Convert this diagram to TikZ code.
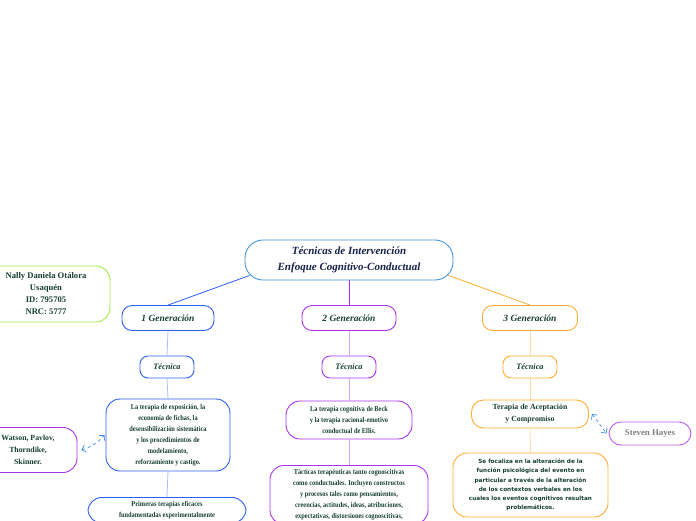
\documentclass[tikz,border=0pt]{standalone}
\usepackage{fontspec}
\setmainfont{Liberation Serif}
\newfontfamily\condserif[FakeStretch=0.86]{Liberation Serif}
\newfontfamily\bodysans{DejaVu Sans}
\usetikzlibrary{arrows.meta,positioning}
\definecolor{txtgreen}{RGB}{22,62,48}
\definecolor{navytxt}{RGB}{22,32,72}
\definecolor{rootblue}{RGB}{70,150,215}
\definecolor{genblue}{RGB}{45,95,245}
\definecolor{genpurple}{RGB}{170,50,235}
\definecolor{genorange}{RGB}{255,172,50}
\definecolor{namegreen}{RGB}{160,235,70}
\definecolor{dashblue}{RGB}{60,140,230}

\begin{document}
\begin{tikzpicture}[x=1pt, y=-1pt,
  box/.style={rectangle, draw, rounded corners=12pt, align=center, text=txtgreen, line width=0.9pt, inner sep=2pt},
  genbox/.style={box, rounded corners=10pt, minimum height=25pt, font=\bfseries\itshape\fontsize{9.5}{11}\selectfont},
  tecbox/.style={box, rounded corners=8pt, minimum width=54pt, minimum height=22pt, font=\bfseries\itshape\fontsize{8.3}{10}\selectfont},
  txtbox/.style={box, rounded corners=14pt, font=\condserif\bfseries\fontsize{7.4}{11}\selectfont},
  link/.style={line width=0.8pt},
  duo/.style={dashed, line width=0.7pt, color=dashblue, {Straight Barb[length=1.3mm]}-{Straight Barb[length=1.3mm]}},
]
\useasboundingbox (0,0) rectangle (696,520);
\clip (0,0) rectangle (696,520);

% central topic
\node[box, draw=rootblue, text=navytxt, rounded corners=18pt, minimum width=208pt, minimum height=40pt,
  font=\bfseries\itshape\fontsize{11}{15.5}\selectfont] (root) at (349,260)
  {Técnicas de Intervención\\Enfoque Cognitivo-Conductual};
\node[box, draw=namegreen, rounded corners=14pt, minimum width=128pt, minimum height=56pt,
  font=\bfseries\fontsize{8.6}{12}\selectfont] (name) at (46,294)
  {Nally Daniela Otálora\\Usaquén\\ID: 795705\\NRC: 5777};

% generations
\node[genbox, draw=genblue, minimum width=92pt] (gen1) at (168,318) {1 Generación};
\node[genbox, draw=genpurple, minimum width=94pt] (gen2) at (349,318) {2 Generación};
\node[genbox, draw=genorange, minimum width=95pt] (gen3) at (530,318) {3 Generación};

\node[tecbox, draw=genblue] (tec1) at (167,367) {Técnica};
\node[tecbox, draw=genpurple] (tec2) at (349,367) {Técnica};
\node[tecbox, draw=genorange] (tec3) at (530,367) {Técnica};

% first generation
\node[txtbox, draw=genblue, minimum width=124pt, minimum height=72pt] (expo) at (168,435)
  {La terapia de exposición, la\\economía de fichas, la\\desensibilización sistemática\\y los procedimientos de\\modelamiento,\\reforzamiento y castigo.};
\node[txtbox, draw=genpurple, minimum width=98pt, minimum height=45pt,
  font=\bfseries\fontsize{7.8}{12}\selectfont] (watson) at (28,450)
  {Watson, Pavlov,\\Thorndike,\\Skinner.};
\node[txtbox, draw=genblue, anchor=north, minimum width=158pt, inner ysep=4pt] (prim) at (167,497)
  {Primeras terapias eficaces\\fundamentadas experimentalmente};

% second generation
\node[txtbox, draw=genpurple, minimum width=126pt, minimum height=38pt] (beck) at (349,420)
  {La terapia cognitiva de Beck\\y la terapia racional-emotivo\\conductual de Ellis.};
\node[txtbox, draw=genpurple, anchor=north, minimum width=158pt, inner ysep=4pt] (tact) at (349,465)
  {Tácticas terapéuticas tanto cognoscitivas\\como conductuales. Incluyen constructos\\y procesos tales como pensamientos,\\creencias, actitudes, ideas, atribuciones,\\expectativas, distorsiones cognoscitivas,};

% third generation
\node[box, draw=genorange, minimum width=117pt, minimum height=28pt,
  font=\bfseries\fontsize{7.8}{12}\selectfont] (acept) at (530,414)
  {Terapia de Aceptación\\y Compromiso};
\node[box, draw=genpurple!80, text=gray, minimum width=82pt, minimum height=23pt,
  font=\bfseries\fontsize{8.8}{10}\selectfont] (hayes) at (650,433.5) {Steven Hayes};
\node[box, draw=genorange, rounded corners=14pt, minimum width=155pt, minimum height=64pt,
  font=\bodysans\bfseries\fontsize{5.7}{9.3}\selectfont] (focal) at (530.5,485)
  {Se focaliza en la alteración de la\\función psicológica del evento en\\particular a través de la alteración\\de los contextos verbales en los\\cuales los eventos cognitivos resultan\\problemáticos.};

\draw[link, genblue] ([xshift=5pt,yshift=5pt]root.south west) -- (gen1.north);
\draw[link, genpurple] (root.south) -- (gen2.north);
\draw[link, genorange] ([xshift=-5pt,yshift=5pt]root.south east) -- (gen3.north);

\draw[link, genblue!40] (gen1.south) -- (tec1.north);
\draw[link, genblue!40] (tec1.south) -- (expo.north);
\draw[link, genblue!40] (expo.south) -- (prim.north);
\draw[link, genpurple!45] (gen2.south) -- (tec2.north);
\draw[link, genpurple!45] (tec2.south) -- (beck.north);
\draw[link, genpurple!45] (beck.south) -- (tact.north);
\draw[link, genorange!45] (gen3.south) -- (tec3.north);
\draw[link, genorange!45] (tec3.south) -- (acept.north);
\draw[link, genorange!45] (acept.south) -- (focal.north);

\draw[duo] ([xshift=4pt]watson.east) to[bend right=15] ([xshift=-1pt]expo.west);
\draw[duo] ([xshift=3pt]acept.east) -- ([xshift=-2pt]hayes.west);
\end{tikzpicture}
\end{document}
